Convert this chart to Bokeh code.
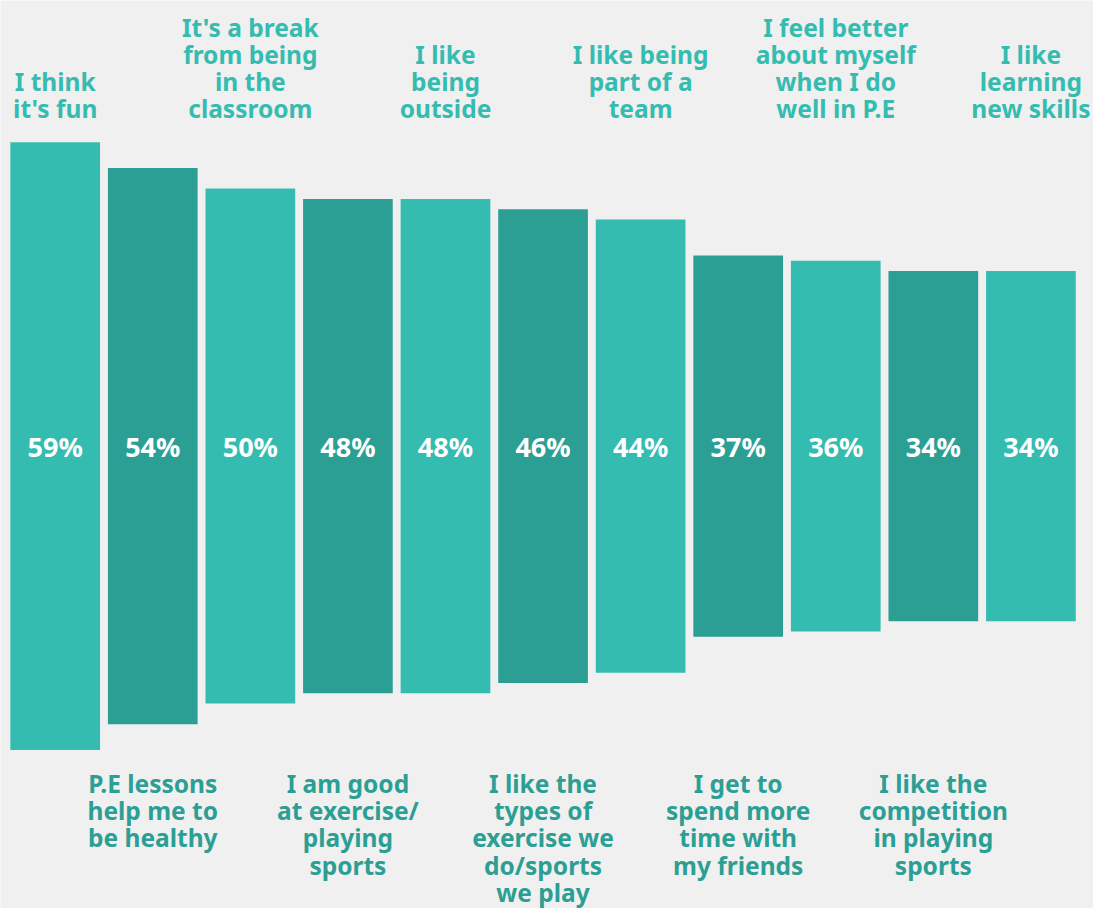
from bokeh.plotting import figure
from bokeh.models import ColumnDataSource, Range1d
from bokeh.core.properties import value
from bokeh.embed import file_html
from bokeh.resources import INLINE

# ---- data ----
reasons = [
    "I think\nit's fun",
    "P.E lessons\nhelp me to\nbe healthy",
    "It's a break\nfrom being\nin the\nclassroom",
    "I am good\nat exercise/\nplaying\nsports",
    "I like\nbeing\noutside",
    "I like the\ntypes of\nexercise we\ndo/sports\nwe play",
    "I like being\npart of a\nteam",
    "I get to\nspend more\ntime with\nmy friends",
    "I feel better\nabout myself\nwhen I do\nwell in P.E",
    "I like the\ncompetition\nin playing\nsports",
    "I like\nlearning\nnew skills",
]
percent = [59, 54, 50, 48, 48, 46, 44, 37, 36, 34, 34]
pct_labels = [f"{v}%" for v in percent]

# ---- style ----
LIGHT = "#35bcb0"
DARK = "#2c9f95"
BG = "#f0f0f0"
FONT = "Noto Sans"

W, H = 1093, 908
PX_PER_PCT = 10.30
CENTER_PX = 445.6
SLOT = 97.57
FIRST_CENTER = 54.7
BAR_W = 89.7

n = len(percent)
xs = list(range(n))
colors = [LIGHT if i % 2 == 0 else DARK for i in xs]

p = figure(width=W, height=H, output_backend="svg", toolbar_location=None,
           x_axis_type=None, y_axis_type=None, min_border=0,
           x_range=Range1d(-FIRST_CENTER / SLOT, (W - FIRST_CENTER) / SLOT),
           y_range=Range1d(-(H - CENTER_PX) / PX_PER_PCT, CENTER_PX / PX_PER_PCT))
p.background_fill_color = BG
p.border_fill_color = BG
p.outline_line_color = None
p.xgrid.visible = False
p.ygrid.visible = False

src = ColumnDataSource(dict(
    x=xs,
    top=[v / 2 for v in percent],
    bottom=[-v / 2 for v in percent],
    color=colors,
    pct=pct_labels,
))
p.vbar(x="x", width=BAR_W / SLOT, top="top", bottom="bottom", source=src,
       fill_color="color", line_color=None)

p.text(x="x", y=0, text="pct", source=src, text_color="white",
       text_font=value(FONT), text_font_style="bold", text_font_size="27px",
       text_align="center", text_baseline="middle")

top_idx = [i for i in xs if i % 2 == 0]
bot_idx = [i for i in xs if i % 2 == 1]
top_src = ColumnDataSource(dict(x=top_idx, t=[reasons[i] for i in top_idx]))
bot_src = ColumnDataSource(dict(x=bot_idx, t=[reasons[i] for i in bot_idx]))

p.text(x="x", y=31.13, text="t", source=top_src, text_color=LIGHT,
       text_font=value(FONT), text_font_style="bold", text_font_size="24.5px",
       text_align="center", text_baseline="bottom", text_line_height=0.825)
p.text(x="x", y=-31.15, text="t", source=bot_src, text_color=DARK,
       text_font=value(FONT), text_font_style="bold", text_font_size="24.5px",
       text_align="center", text_baseline="top", text_line_height=0.825)

html = file_html(p, INLINE)
html = html.replace("<body>", '<body style="background:#f0f0f0">', 1)
open("out.html", "w").write(html)
